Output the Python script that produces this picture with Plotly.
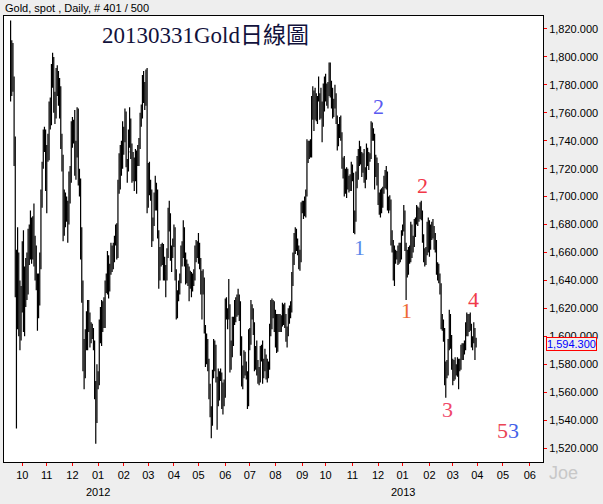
import plotly.graph_objects as go
import pandas as pd

# ---------------- data ----------------
first_day = "2011-09-19"
header_text = "Gold, spot , Daily, # 401 / 500"
title_text = "20130331Gold日線圖"
last_price = 1594.3
last_price_label = "1,594.300"
watermark_text = "Joe"

opens = [
    # 2011-09
    1812, 1779, 1806, 1784, 1740, 1658, 1627, 1652, 1615, 1617,
    # 2011-10
    1622, 1656, 1632, 1640, 1649, 1636, 1672, 1662, 1683, 1668, 1683, 1657, 1656, 1640, 1615, 1642, 1652, 1700, 1722, 1745, 1745,
    # 2011-11
    1712, 1730, 1735, 1764, 1754, 1792, 1795, 1768, 1758, 1788, 1779, 1782, 1776, 1740, 1723, 1679, 1698, 1690, 1695, 1685, 1713, 1716,
    # 2011-12
    1748, 1745, 1748, 1722, 1733, 1744, 1713, 1711, 1662, 1634, 1590, 1572, 1600, 1594, 1620, 1611, 1608, 1605, 1603, 1594, 1563, 1542,
    # 2012-01
    1565, 1567, 1604, 1612, 1620, 1615, 1608, 1636, 1642, 1653, 1637, 1648, 1654, 1660, 1655, 1666, 1678, 1664, 1708, 1724, 1736, 1731,
    # 2012-02
    1740, 1745, 1759, 1725, 1721, 1745, 1732, 1734, 1725, 1718, 1722, 1716, 1730, 1723, 1740, 1756, 1760, 1780, 1773, 1768, 1788,
    # 2012-03
    1696, 1720, 1709, 1704, 1672, 1683, 1698, 1697, 1701, 1674, 1643, 1660, 1657, 1664, 1651, 1647, 1643, 1661, 1687, 1686, 1657, 1661,
    # 2012-04
    1668, 1675, 1646, 1615, 1630, 1637, 1640, 1661, 1658, 1674, 1656, 1651, 1648, 1642, 1640, 1643, 1637, 1643, 1645, 1660, 1663,
    # 2012-05
    1664, 1662, 1653, 1635, 1644, 1640, 1605, 1592, 1594, 1580, 1560, 1548, 1539, 1573, 1591, 1590, 1570, 1562, 1557, 1573, 1571, 1552, 1563,
    # 2012-06
    1560, 1622, 1616, 1616, 1619, 1588, 1592, 1596, 1612, 1618, 1616, 1626, 1628, 1620, 1592, 1568, 1572, 1588, 1576, 1573, 1553,
    # 2012-07
    1598, 1597, 1620, 1616, 1606, 1580, 1590, 1575, 1575, 1568, 1590, 1589, 1579, 1578, 1581, 1583, 1578, 1579, 1606, 1617, 1621, 1620,
    # 2012-08
    1614, 1596, 1590, 1606, 1611, 1610, 1608, 1620, 1619, 1612, 1600, 1604, 1616, 1617, 1620, 1641, 1656, 1670, 1672, 1665, 1664, 1658, 1656,
    # 2012-09
    1690, 1693, 1693, 1693, 1702, 1738, 1732, 1735, 1733, 1768, 1770, 1758, 1772, 1768, 1769, 1773, 1764, 1762, 1753, 1778,
    # 2012-10
    1772, 1774, 1776, 1778, 1792, 1781, 1775, 1764, 1765, 1768, 1756, 1739, 1749, 1753, 1745, 1723, 1725, 1708, 1707, 1715, 1712, 1708, 1710,
    # 2012-11
    1720, 1715, 1677, 1684, 1715, 1714, 1730, 1731, 1728, 1724, 1728, 1713, 1714, 1734, 1728, 1727, 1729, 1751, 1746, 1744, 1716, 1726,
    # 2012-12
    1712, 1696, 1699, 1692, 1702, 1704, 1711, 1714, 1716, 1695, 1696, 1697, 1668, 1666, 1647, 1657, 1658, 1659, 1662, 1664, 1657,
    # 2013-01
    1675, 1677, 1688, 1664, 1656, 1646, 1660, 1655, 1677, 1663, 1669, 1681, 1683, 1688, 1687, 1690, 1692, 1686, 1669, 1658, 1653, 1662, 1678,
    # 2013-02
    1663, 1667, 1675, 1674, 1677, 1670, 1667, 1648, 1650, 1643, 1636, 1610, 1610, 1603, 1578, 1575, 1573, 1594, 1613, 1595,
    # 2013-03
    1579, 1577, 1572, 1574, 1576, 1580, 1578, 1577, 1592, 1588, 1590, 1592, 1604, 1613, 1605, 1613, 1607, 1594, 1596, 1605, 1597,
]

highs = [
    # 2011-09
    1826, 1812, 1810, 1786, 1743, 1662, 1678, 1660, 1640, 1636,
    # 2011-10
    1668, 1676, 1650, 1656, 1660, 1677, 1680, 1690, 1685, 1686, 1695, 1672, 1665, 1645, 1645, 1660, 1705, 1725, 1748, 1750, 1748,
    # 2011-11
    1737, 1745, 1768, 1771, 1795, 1803, 1800, 1775, 1792, 1794, 1790, 1785, 1779, 1745, 1730, 1705, 1703, 1700, 1697, 1718, 1722, 1754,
    # 2011-12
    1757, 1755, 1762, 1740, 1764, 1763, 1720, 1713, 1678, 1640, 1598, 1605, 1618, 1626, 1626, 1617, 1610, 1609, 1606, 1597, 1568, 1580,
    # 2012-01
    1575, 1612, 1621, 1626, 1625, 1628, 1640, 1645, 1661, 1658, 1652, 1667, 1665, 1667, 1672, 1680, 1681, 1712, 1731, 1737, 1740, 1754,
    # 2012-02
    1750, 1763, 1761, 1727, 1748, 1764, 1756, 1738, 1732, 1728, 1734, 1733, 1737, 1742, 1760, 1766, 1787, 1790, 1782, 1791, 1792,
    # 2012-03
    1724, 1725, 1712, 1705, 1685, 1703, 1715, 1710, 1705, 1676, 1664, 1666, 1667, 1666, 1657, 1651, 1663, 1692, 1697, 1688, 1665, 1670,
    # 2012-04
    1680, 1678, 1648, 1633, 1640, 1645, 1665, 1668, 1683, 1678, 1660, 1655, 1652, 1650, 1647, 1646, 1645, 1648, 1665, 1669, 1668,
    # 2012-05
    1674, 1667, 1656, 1647, 1648, 1642, 1608, 1602, 1598, 1584, 1566, 1550, 1576, 1598, 1597, 1594, 1571, 1577, 1575, 1577, 1574, 1567, 1569,
    # 2012-06
    1627, 1628, 1620, 1641, 1623, 1597, 1614, 1614, 1626, 1628, 1630, 1634, 1630, 1625, 1600, 1579, 1590, 1589, 1582, 1575, 1605,
    # 2012-07
    1606, 1626, 1623, 1620, 1610, 1593, 1597, 1583, 1578, 1593, 1594, 1597, 1584, 1591, 1587, 1584, 1582, 1609, 1626, 1627, 1626, 1625,
    # 2012-08
    1619, 1616, 1616, 1616, 1616, 1615, 1624, 1623, 1624, 1616, 1607, 1620, 1622, 1625, 1646, 1660, 1674, 1678, 1677, 1670, 1665, 1662, 1696,
    # 2012-09
    1697, 1697, 1700, 1705, 1741, 1740, 1740, 1741, 1772, 1779, 1776, 1778, 1774, 1772, 1786, 1774, 1778, 1768, 1781, 1786,
    # 2012-10
    1788, 1781, 1782, 1796, 1796, 1783, 1778, 1770, 1780, 1774, 1758, 1752, 1757, 1758, 1746, 1728, 1729, 1720, 1721, 1720, 1715, 1716, 1725,
    # 2012-11
    1723, 1717, 1690, 1718, 1729, 1734, 1740, 1736, 1732, 1731, 1734, 1721, 1738, 1735, 1732, 1731, 1754, 1753, 1749, 1745, 1730, 1728,
    # 2012-12
    1724, 1703, 1705, 1706, 1707, 1715, 1719, 1722, 1718, 1700, 1701, 1698, 1676, 1669, 1665, 1662, 1661, 1665, 1667, 1667, 1676,
    # 2013-01
    1680, 1694, 1690, 1667, 1662, 1664, 1665, 1682, 1680, 1672, 1684, 1685, 1694, 1693, 1692, 1696, 1697, 1690, 1673, 1663, 1664, 1682, 1685,
    # 2013-02
    1683, 1680, 1682, 1684, 1679, 1674, 1669, 1653, 1652, 1645, 1638, 1616, 1612, 1606, 1582, 1583, 1598, 1619, 1616, 1601,
    # 2013-03
    1584, 1583, 1585, 1580, 1585, 1584, 1584, 1594, 1595, 1595, 1597, 1610, 1617, 1616, 1616, 1617, 1609, 1600, 1610, 1606, 1599,
]

lows = [
    # 2011-09
    1768, 1772, 1775, 1722, 1628, 1534, 1605, 1600, 1590, 1597,
    # 2011-10
    1617, 1603, 1600, 1621, 1626, 1630, 1651, 1655, 1652, 1655, 1650, 1640, 1633, 1604, 1613, 1622, 1648, 1692, 1720, 1732, 1704,
    # 2011-11
    1688, 1725, 1726, 1748, 1751, 1778, 1760, 1752, 1756, 1772, 1765, 1756, 1734, 1718, 1668, 1672, 1678, 1682, 1667, 1680, 1695, 1710,
    # 2011-12
    1735, 1738, 1715, 1712, 1728, 1708, 1700, 1655, 1624, 1575, 1562, 1570, 1590, 1590, 1603, 1592, 1595, 1598, 1590, 1555, 1523, 1538,
    # 2012-01
    1562, 1565, 1595, 1593, 1603, 1606, 1606, 1631, 1630, 1627, 1632, 1644, 1646, 1648, 1653, 1665, 1655, 1656, 1702, 1705, 1715, 1720,
    # 2012-02
    1730, 1739, 1721, 1710, 1718, 1735, 1727, 1710, 1711, 1704, 1711, 1702, 1722, 1722, 1734, 1750, 1756, 1767, 1762, 1765, 1688,
    # 2012-03
    1692, 1701, 1697, 1664, 1668, 1679, 1690, 1690, 1670, 1634, 1640, 1650, 1651, 1640, 1640, 1628, 1640, 1656, 1675, 1654, 1646, 1656,
    # 2012-04
    1664, 1640, 1612, 1613, 1625, 1630, 1638, 1650, 1656, 1650, 1637, 1638, 1636, 1625, 1634, 1628, 1632, 1636, 1640, 1653, 1656,
    # 2012-05
    1652, 1648, 1630, 1612, 1630, 1602, 1578, 1580, 1575, 1555, 1542, 1527, 1536, 1570, 1575, 1567, 1533, 1550, 1554, 1568, 1548, 1544, 1550,
    # 2012-06
    1556, 1612, 1605, 1612, 1574, 1576, 1585, 1593, 1608, 1610, 1614, 1615, 1611, 1586, 1564, 1562, 1570, 1572, 1569, 1548, 1550,
    # 2012-07
    1590, 1594, 1612, 1601, 1575, 1576, 1572, 1566, 1565, 1567, 1582, 1566, 1570, 1575, 1569, 1567, 1570, 1576, 1600, 1605, 1613, 1603,
    # 2012-08
    1592, 1588, 1589, 1603, 1603, 1603, 1607, 1608, 1606, 1596, 1592, 1600, 1609, 1613, 1617, 1636, 1651, 1659, 1661, 1658, 1648, 1647, 1653,
    # 2012-09
    1688, 1684, 1686, 1685, 1700, 1724, 1727, 1728, 1728, 1755, 1747, 1755, 1754, 1752, 1768, 1755, 1756, 1739, 1750, 1761,
    # 2012-10
    1768, 1765, 1763, 1772, 1771, 1763, 1756, 1757, 1763, 1752, 1733, 1736, 1742, 1740, 1720, 1713, 1700, 1702, 1699, 1705, 1703, 1704, 1704,
    # 2012-11
    1711, 1674, 1673, 1682, 1706, 1712, 1722, 1723, 1714, 1717, 1710, 1706, 1712, 1722, 1719, 1725, 1727, 1740, 1740, 1705, 1714, 1708,
    # 2012-12
    1694, 1687, 1685, 1688, 1692, 1702, 1706, 1705, 1690, 1688, 1690, 1665, 1660, 1640, 1636, 1652, 1655, 1651, 1652, 1653, 1655,
    # 2013-01
    1672, 1675, 1661, 1626, 1642, 1644, 1652, 1653, 1656, 1660, 1664, 1671, 1680, 1679, 1682, 1684, 1683, 1667, 1653, 1650, 1651, 1658, 1660,
    # 2013-02
    1657, 1662, 1669, 1670, 1662, 1660, 1644, 1640, 1638, 1630, 1605, 1604, 1596, 1565, 1556, 1570, 1572, 1590, 1591, 1576,
    # 2013-03
    1565, 1568, 1569, 1572, 1571, 1562, 1575, 1576, 1583, 1583, 1587, 1590, 1600, 1600, 1603, 1604, 1592, 1590, 1595, 1583, 1592,
]

closes = [
    # 2011-09
    1779, 1806, 1784, 1740, 1658, 1627, 1652, 1615, 1617, 1622,
    # 2011-10
    1656, 1632, 1640, 1649, 1636, 1672, 1662, 1683, 1668, 1683, 1657, 1656, 1640, 1615, 1642, 1652, 1700, 1722, 1745, 1745, 1712,
    # 2011-11
    1730, 1735, 1764, 1754, 1792, 1795, 1768, 1758, 1788, 1779, 1782, 1776, 1740, 1723, 1679, 1698, 1690, 1695, 1685, 1713, 1716, 1748,
    # 2011-12
    1745, 1748, 1722, 1733, 1744, 1713, 1711, 1662, 1634, 1590, 1572, 1600, 1594, 1620, 1611, 1608, 1605, 1603, 1594, 1563, 1542, 1565,
    # 2012-01
    1567, 1604, 1612, 1620, 1615, 1608, 1636, 1642, 1653, 1637, 1648, 1654, 1660, 1655, 1666, 1678, 1664, 1708, 1724, 1736, 1731, 1740,
    # 2012-02
    1745, 1759, 1725, 1721, 1745, 1732, 1734, 1725, 1718, 1722, 1716, 1730, 1723, 1740, 1756, 1760, 1780, 1773, 1768, 1788, 1696,
    # 2012-03
    1720, 1709, 1704, 1672, 1683, 1698, 1697, 1701, 1674, 1643, 1660, 1657, 1664, 1651, 1647, 1643, 1661, 1687, 1686, 1657, 1661, 1668,
    # 2012-04
    1675, 1646, 1615, 1630, 1637, 1640, 1661, 1658, 1674, 1656, 1651, 1648, 1642, 1640, 1643, 1637, 1643, 1645, 1660, 1663, 1664,
    # 2012-05
    1662, 1653, 1635, 1644, 1640, 1605, 1592, 1594, 1580, 1560, 1548, 1539, 1573, 1591, 1590, 1570, 1562, 1557, 1573, 1571, 1552, 1563, 1560,
    # 2012-06
    1622, 1616, 1616, 1619, 1588, 1592, 1596, 1612, 1618, 1616, 1626, 1628, 1620, 1592, 1568, 1572, 1588, 1576, 1573, 1553, 1598,
    # 2012-07
    1597, 1620, 1616, 1606, 1580, 1590, 1575, 1575, 1568, 1590, 1589, 1579, 1578, 1581, 1583, 1578, 1579, 1606, 1617, 1621, 1620, 1614,
    # 2012-08
    1596, 1590, 1606, 1611, 1610, 1608, 1620, 1619, 1612, 1600, 1604, 1616, 1617, 1620, 1641, 1656, 1670, 1672, 1665, 1664, 1658, 1656, 1690,
    # 2012-09
    1693, 1693, 1693, 1702, 1738, 1732, 1735, 1733, 1768, 1770, 1758, 1772, 1768, 1769, 1773, 1764, 1762, 1753, 1778, 1772,
    # 2012-10
    1774, 1776, 1778, 1792, 1781, 1775, 1764, 1765, 1768, 1756, 1739, 1749, 1753, 1745, 1723, 1725, 1708, 1707, 1715, 1712, 1708, 1710, 1720,
    # 2012-11
    1715, 1677, 1684, 1715, 1714, 1730, 1731, 1728, 1724, 1728, 1713, 1714, 1734, 1728, 1727, 1729, 1751, 1746, 1744, 1716, 1726, 1712,
    # 2012-12
    1696, 1699, 1692, 1702, 1704, 1711, 1714, 1716, 1695, 1696, 1697, 1668, 1666, 1647, 1657, 1658, 1659, 1662, 1664, 1657, 1675,
    # 2013-01
    1677, 1688, 1664, 1656, 1646, 1660, 1655, 1677, 1663, 1669, 1681, 1683, 1688, 1687, 1690, 1692, 1686, 1669, 1658, 1653, 1662, 1678, 1663,
    # 2013-02
    1667, 1675, 1674, 1677, 1670, 1667, 1648, 1650, 1643, 1636, 1610, 1610, 1603, 1578, 1575, 1573, 1594, 1613, 1595, 1579,
    # 2013-03
    1577, 1572, 1574, 1576, 1580, 1578, 1577, 1592, 1588, 1590, 1592, 1604, 1613, 1605, 1613, 1607, 1594, 1596, 1605, 1597, 1594.3,
]

month_ticks = ["2011-10", "2011-11", "2011-12", "2012-01", "2012-02", "2012-03", "2012-04",
               "2012-05", "2012-06", "2012-07", "2012-08", "2012-09", "2012-10", "2012-11",
               "2012-12", "2013-01", "2013-02", "2013-03", "2013-04", "2013-05", "2013-06"]
month_labels = ["10", "11", "12", "01", "02", "03", "04", "05", "06", "07", "08",
                "09", "10", "11", "12", "01", "02", "03", "04", "05", "06"]
year_months = ["2012-01", "2013-01"]
year_labels = ["2012", "2013"]

price_ticks = [1520, 1540, 1560, 1580, 1600, 1620, 1640, 1660, 1680, 1700,
               1720, 1740, 1760, 1780, 1800, 1820]
price_tick_labels = ["1,520.000", "1,540.000", "1,560.000", "1,580.000", "1,600.000",
                     "1,620.000", "1,640.000", "1,660.000", "1,680.000", "1,700.000",
                     "1,720.000", "1,740.000", "1,760.000", "1,780.000", "1,800.000",
                     "1,820.000"]

# Elliott-wave labels: text, colour
wave_texts = ["2", "1", "2", "1", "3", "4"]
wave_colors = ["#5a5af0", "#5a8aea", "#f23848", "#ee6a34", "#f0486a", "#f03a4a"]

# ---------------- build ----------------
n = len(closes)
calendar = pd.bdate_range(first_day, "2013-06-28")
bar_x = list(range(n))
ym = calendar.strftime("%Y-%m")
tick_pos = [int((ym == m).argmax()) for m in month_ticks]
year_pos = [int((ym == m).argmax()) for m in year_months]

W, H = 603, 504
L, R, T, B = 4, 543, 16, 462
PX_PER_BAR = 1.1667
X0 = -5.66


def px(x):
    return (x - L) / (R - L)


def py(y):
    return (B - y) / (B - T)


def bx(x):
    return X0 + (x - L) / PX_PER_BAR


Y0, Y1 = 1510.0, 1829.3


def by(y):
    return Y0 + (B - y) / (B - T) * (Y1 - Y0)


fig = go.Figure()
fig.add_trace(go.Ohlc(
    x=bar_x, open=opens, high=highs, low=lows, close=closes,
    increasing=dict(line=dict(color="black", width=1.2)),
    decreasing=dict(line=dict(color="black", width=1.2)),
    tickwidth=0.5, hoverinfo="skip", showlegend=False,
))

sans = "Liberation Sans, Arial, sans-serif"
serif = "Liberation Serif, Times New Roman, Noto Sans CJK TC, serif"

annotations = [
    dict(x=px(3), y=py(8), xref="paper", yref="paper", text=header_text,
         xanchor="left", yanchor="middle", showarrow=False,
         font=dict(family=sans, size=11, color="black")),
    dict(x=px(100), y=py(35), xref="paper", yref="paper", text=title_text,
         xanchor="left", yanchor="middle", showarrow=False,
         font=dict(family=serif, size=23, color="#12123c")),
    dict(x=px(546), y=last_price, xref="paper", yref="y", text=last_price_label,
         xanchor="left", yanchor="middle", showarrow=False,
         font=dict(family=sans, size=11, color="#0000ff"),
         bordercolor="#ff0000", borderwidth=1, borderpad=0, bgcolor="#eeeeee"),
    dict(x=px(563), y=py(473), xref="paper", yref="paper", text=watermark_text,
         xanchor="center", yanchor="middle", showarrow=False,
         font=dict(family=sans, size=18, color="#c8c8c8")),
]

for pos, lab in zip(year_pos, year_labels):
    annotations.append(dict(x=pos, y=py(492), xref="x", yref="paper", text=lab,
                            xanchor="center", yanchor="middle", showarrow=False,
                            font=dict(family=sans, size=11, color="black")))

wave_pix = [(378, 106), (359, 247), (422, 185), (406, 310), (447, 409), (473, 299)]
for (wxp, wyp), t, c in zip(wave_pix, wave_texts, wave_colors):
    annotations.append(dict(x=bx(wxp), y=by(wyp), xref="x", yref="y", text=t,
                            xanchor="center", yanchor="middle", showarrow=False,
                            font=dict(family=serif, size=22, color=c)))
annotations.append(dict(x=bx(508), y=by(430), xref="x", yref="y",
                        text="<span style='color:#ea4456'>5</span><span style='color:#4462e8'>3</span>",
                        xanchor="center", yanchor="middle", showarrow=False,
                        font=dict(family=serif, size=22)))

fig.update_layout(
    width=W, height=H,
    margin=dict(l=L, r=W - R, t=T, b=H - B, pad=0),
    paper_bgcolor="#eeeeee", plot_bgcolor="white",
    showlegend=False,
    annotations=annotations,
    xaxis=dict(range=[X0, X0 + (R - L) / PX_PER_BAR], tickmode="array",
               tickvals=tick_pos, ticktext=month_labels,
               ticks="outside", ticklen=3, tickcolor="#ff0000", tickwidth=1,
               showgrid=False, zeroline=False, showline=True, linecolor="black",
               linewidth=1, mirror=True,
               tickfont=dict(family=sans, size=11, color="black"),
               rangeslider=dict(visible=False), fixedrange=True),
    yaxis=dict(range=[Y0, Y1], side="right", tickmode="array",
               tickvals=price_ticks, ticktext=price_tick_labels,
               ticks="outside", ticklen=3, tickcolor="#ff0000", tickwidth=1,
               showgrid=False, zeroline=False, showline=True, linecolor="black",
               linewidth=1, mirror=True,
               tickfont=dict(family=sans, size=11, color="black"), fixedrange=True),
)

fig.write_html("out.html", config={"displayModeBar": False},
               post_script="document.body.style.margin='0';document.body.style.overflow='hidden';")
